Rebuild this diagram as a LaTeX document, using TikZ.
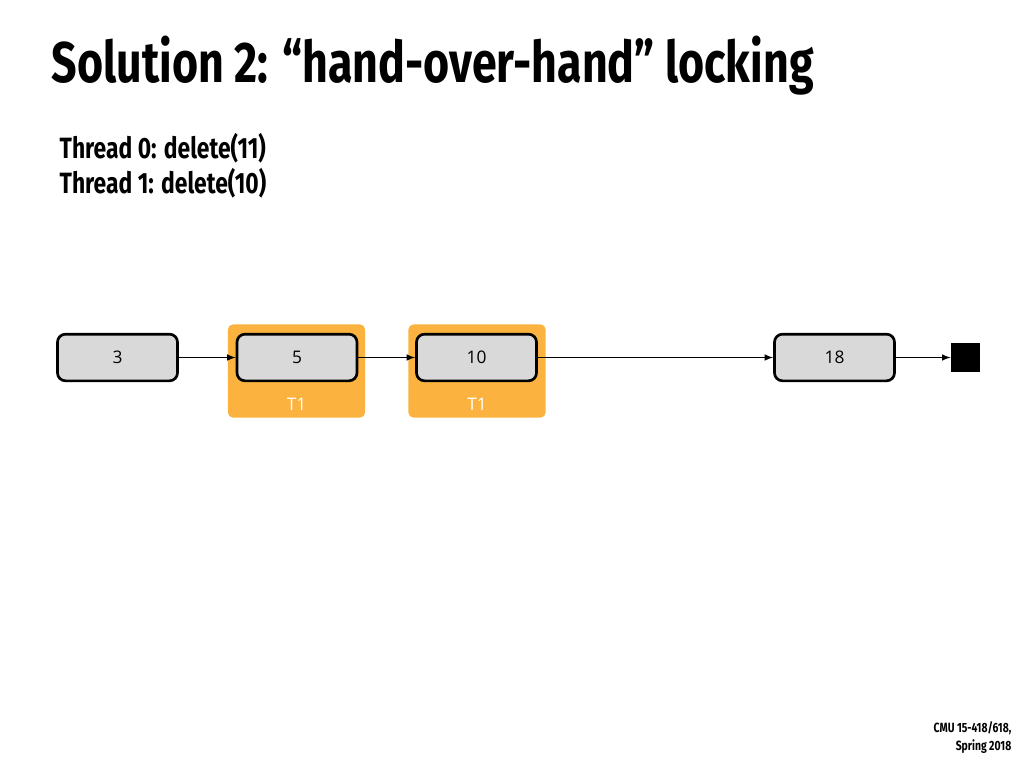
\documentclass[tikz,border=0pt]{standalone}
\usepackage{fontspec}
\setmainfont{Open Sans}
\newfontfamily\headfont{Fira Sans}
\definecolor{lockorange}{RGB}{251,178,62}
\definecolor{nodegray}{RGB}{217,217,217}
\begin{document}
\begin{tikzpicture}
		[
		x=0.75pt, y=-0.75pt, >=latex,
		listnode/.style={draw=black, line width=2pt, fill=nodegray, rounded corners=6pt, minimum width=90pt, minimum height=35pt, font=\fontsize{13}{15}\selectfont},
		lockbox/.style={fill=lockorange, rounded corners=4pt, minimum width=103pt, minimum height=70pt},
		locklabel/.style={text=white, font=\fontsize{13}{15}\selectfont}
		]
		
		%Rahmen
		\useasboundingbox (0,0) rectangle (1024,768);
		
		%Titel
		\node[anchor=base west, xscale=0.78, transform shape, font=\headfont\bfseries\fontsize{43}{48}\selectfont] (title) at (48,82) {Solution 2: “hand-over-hand” locking};
		\node[anchor=base west, xscale=0.78, transform shape, font=\headfont\bfseries\fontsize{22}{26}\selectfont] (thr0) at (56,158) {Thread 0: delete(11)};
		\node[anchor=base west, xscale=0.78, transform shape, font=\headfont\bfseries\fontsize{22}{26}\selectfont] (thr1) at (56,193) {Thread 1: delete(10)};
		
		%Sperren
		\node[lockbox] (lockA) at (296.5,371) {};
		\node[lockbox] (lockB) at (477,371) {};
		\node[locklabel] (tA) at (296.5,404) {T1};
		\node[locklabel] (tB) at (477,404) {T1};
		
		%Listenknoten
		\node[listnode] (n3) at (117.5,357.5) {3};
		\node[listnode] (n5) at (297,357.5) {5};
		\node[listnode] (n10) at (476.5,357.5) {10};
		\node[listnode] (n18) at (834.5,357.5) {18};
		\node[fill=black, minimum size=22pt, inner sep=0pt] (tail) at (965.5,357.5) {};
		
		%Zeiger
		\draw[->, line width=1.2pt] (n3) -- (n5);
		\draw[->, line width=1.2pt] (n5) -- (n10);
		\draw[->, line width=1.2pt] (n10) -- (n18);
		\draw[->, line width=1.2pt] (n18) -- (tail);
		
		%Fusszeile
		\node[anchor=base east, align=right, xscale=0.78, transform shape, font=\headfont\bfseries\fontsize{10}{13}\selectfont] (foot) at (1015,750) {CMU 15-418/618,\\Spring 2018};
	\end{tikzpicture}
\end{document}
